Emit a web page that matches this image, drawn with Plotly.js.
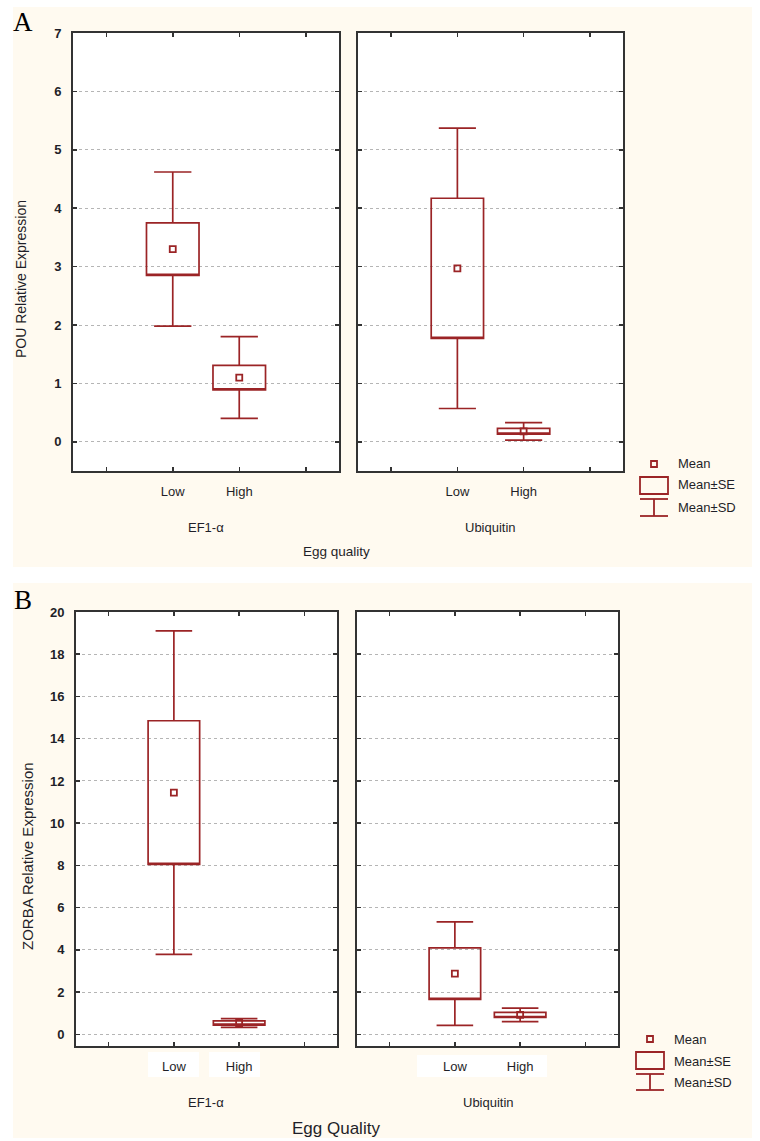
<!DOCTYPE html>
<html>
<head>
<meta charset="utf-8">
<script src="https://cdn.plot.ly/plotly-3.0.1.min.js"></script>
<style>html,body{margin:0;padding:0;background:#fff;}#chart{width:760px;height:1141px;}</style>
</head>
<body>
<div id="chart"></div>
<script>
// ---- data ----
const groups = ['Low', 'High'];
const genes = ['EF1-α', 'Ubiquitin'];
// Panel A: POU relative expression
const pouEF1Mean = [3.30, 1.10];
const pouEF1SE   = [0.45, 0.21];
const pouEF1SD   = [1.32, 0.70];
const pouUbqMean = [2.97, 0.18];
const pouUbqSE   = [1.20, 0.05];
const pouUbqSD   = [2.40, 0.15];
// Panel B: ZORBA relative expression
const zorEF1Mean = [11.45, 0.54];
const zorEF1SE   = [3.40, 0.10];
const zorEF1SD   = [7.66, 0.21];
const zorUbqMean = [2.88, 0.92];
const zorUbqSE   = [1.22, 0.12];
const zorUbqSD   = [2.45, 0.32];
const legendLabels = ['Mean', 'Mean±SE', 'Mean±SD'];

// ---- helpers ----
const W = 760, H = 1141;
const px = x => x / W, py = y => 1 - y / H;
const RED = '#9b2426';
const TXT = '#1f1f28';
const FONT = 'Liberation Sans, Arial, sans-serif';
const xpos = [1, 2];

function boxTrace(mean, se, sd, xa, ya) {
  return {
    type: 'box', x: xpos, xaxis: xa, yaxis: ya,
    q1: mean.map((m, i) => m - se[i]),
    median: mean.map((m, i) => m - se[i]),
    q3: mean.map((m, i) => m + se[i]),
    lowerfence: mean.map((m, i) => m - sd[i]),
    upperfence: mean.map((m, i) => m + sd[i]),
    width: 0.79, whiskerwidth: 0.71, boxpoints: false,
    fillcolor: 'rgba(0,0,0,0)', line: {color: RED, width: 1.7},
    hoverinfo: 'skip'
  };
}
function meanTrace(mean, xa, ya) {
  return {
    type: 'scatter', mode: 'markers', x: xpos, y: mean, xaxis: xa, yaxis: ya,
    marker: {symbol: 'square-open', size: 6, color: RED, line: {width: 1.8, color: RED}},
    hoverinfo: 'skip'
  };
}

const data = [
  boxTrace(pouEF1Mean, pouEF1SE, pouEF1SD, 'x', 'y'), meanTrace(pouEF1Mean, 'x', 'y'),
  boxTrace(pouUbqMean, pouUbqSE, pouUbqSD, 'x2', 'y2'), meanTrace(pouUbqMean, 'x2', 'y2'),
  boxTrace(zorEF1Mean, zorEF1SE, zorEF1SD, 'x3', 'y3'), meanTrace(zorEF1Mean, 'x3', 'y3'),
  boxTrace(zorUbqMean, zorUbqSE, zorUbqSD, 'x4', 'y4'), meanTrace(zorUbqMean, 'x4', 'y4')
];

function xAxis(x0, x1, anchor) {
  return {
    domain: [px(x0), px(x1)], anchor: anchor, range: [-0.5, 3.5],
    tickvals: [0, 1, 2, 3], ticktext: ['', groups[0], groups[1], ''],
    ticks: 'inside', ticklen: 4, tickwidth: 1.5, tickcolor: '#333',
    showline: true, linecolor: '#333', linewidth: 2, mirror: 'ticks',
    showgrid: false, zeroline: false, ticklabelstandoff: 7,
    tickfont: {family: FONT, size: 13, color: TXT}, fixedrange: true
  };
}
function yAxis(y0, y1, range, dtick, anchor, labels) {
  return {
    domain: [py(y1), py(y0)], anchor: anchor, range: range, dtick: dtick, tick0: 0,
    ticks: 'inside', ticklen: 4, tickwidth: 1.5, tickcolor: '#333',
    showline: true, linecolor: '#333', linewidth: 2, mirror: 'ticks',
    showgrid: true, gridcolor: '#b5b5b5', griddash: 'dot', gridwidth: 1,
    zeroline: false, showticklabels: labels, ticklabelstandoff: 7,
    tickfont: {family: FONT, size: 13, color: TXT, weight: 'bold'}, fixedrange: true
  };
}

const shapes = [];
// white page areas outside the cream panels
[[0, 0, 760, 7], [0, 567, 760, 583], [0, 0, 13, 1141], [752, 0, 760, 1141], [0, 1138, 760, 1141]]
  .forEach(r => shapes.push({type: 'rect', xref: 'paper', yref: 'paper', layer: 'below',
    x0: px(r[0]), x1: px(r[2]), y0: py(r[3]), y1: py(r[1]), fillcolor: '#ffffff', line: {width: 0}}));
// white patches behind the category labels in panel B
[[148, 1052, 199, 1077], [209, 1052, 260, 1077], [417, 1055, 547, 1077]]
  .forEach(r => shapes.push({type: 'rect', xref: 'paper', yref: 'paper', layer: 'below',
    x0: px(r[0]), x1: px(r[2]), y0: py(r[3]), y1: py(r[1]), fillcolor: '#ffffff', line: {width: 0}}));

function legendShapes(mx, my, bx0, bx1, by0, by1, cy0, cy1) {
  const ln = {color: RED, width: 1.8};
  const cx = (bx0 + bx1) / 2;
  shapes.push({type: 'rect', xref: 'paper', yref: 'paper', x0: px(mx - 3), x1: px(mx + 3), y0: py(my + 3), y1: py(my - 3), line: ln});
  shapes.push({type: 'rect', xref: 'paper', yref: 'paper', x0: px(bx0), x1: px(bx1), y0: py(by1), y1: py(by0), line: ln});
  shapes.push({type: 'line', xref: 'paper', yref: 'paper', x0: px(bx0), x1: px(bx1), y0: py(cy0), y1: py(cy0), line: ln});
  shapes.push({type: 'line', xref: 'paper', yref: 'paper', x0: px(bx0), x1: px(bx1), y0: py(cy1), y1: py(cy1), line: ln});
  shapes.push({type: 'line', xref: 'paper', yref: 'paper', x0: px(cx), x1: px(cx), y0: py(cy0), y1: py(cy1), line: ln});
}
legendShapes(654, 464, 640, 668, 477, 494, 499, 516);
legendShapes(650, 1039, 636, 664, 1052, 1069, 1074, 1090);

const annotations = [];
function ann(text, x, y, size, opts) {
  annotations.push(Object.assign({text: text, x: px(x), y: py(y), xref: 'paper', yref: 'paper',
    showarrow: false, font: {family: FONT, size: size, color: TXT}, xanchor: 'center', yanchor: 'middle'}, opts || {}));
}
const serif = {family: 'Liberation Serif, Times New Roman, serif', size: 27, color: '#000'};
ann('A', 23, 22, 27, {font: serif});
ann('B', 23, 600, 27, {font: serif});
ann('POU Relative Expression', 21, 279, 14, {textangle: -90});
ann('ZORBA Relative Expression', 27, 856, 15, {textangle: -90});
ann(genes[0], 206, 527, 13);
ann(genes[1], 490, 527, 13);
ann('Egg quality', 336, 552, 13.5);
ann(genes[0], 206, 1102, 13);
ann(genes[1], 488, 1102, 13);
ann('Egg Quality', 336, 1128, 17);
legendLabels.forEach((t, i) => ann(t, 676, [463, 485, 507][i], 13, {xanchor: 'left'}));
legendLabels.forEach((t, i) => ann(t, 672, [1039, 1061, 1082][i], 13, {xanchor: 'left'}));

const layout = {
  width: W, height: H, margin: {l: 0, r: 0, t: 0, b: 0},
  paper_bgcolor: '#fffaf0', plot_bgcolor: '#ffffff', showlegend: false,
  xaxis: xAxis(73, 339, 'y'),
  yaxis: yAxis(33, 471, [-0.5, 7], 1, 'x', true),
  xaxis2: xAxis(358, 623, 'y2'),
  yaxis2: yAxis(33, 471, [-0.5, 7], 1, 'x2', false),
  xaxis3: xAxis(76, 337, 'y3'),
  yaxis3: yAxis(612, 1046, [-0.55, 20], 2, 'x3', true),
  xaxis4: xAxis(357, 618, 'y4'),
  yaxis4: yAxis(612, 1046, [-0.55, 20], 2, 'x4', false),
  shapes: shapes, annotations: annotations
};
Plotly.newPlot('chart', data, layout, {displayModeBar: false, staticPlot: true});
</script>
</body>
</html>
